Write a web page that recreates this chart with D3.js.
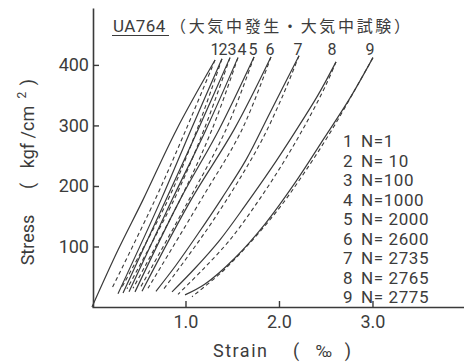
<!DOCTYPE html>
<html><head><meta charset="utf-8">
<script src="https://cdn.jsdelivr.net/npm/d3@7"></script>
<style>
html,body{margin:0;padding:0;background:#fff;}
svg{display:block;}
text{font-family:Roboto,"DejaVu Sans",sans-serif;fill:#3c3c3c;}
</style></head>
<body>
<svg id="c" width="464" height="362"></svg>
<script>
// ---- data (strain ‰, stress kgf/cm2) ----
const loopIds = [1,2,3,4,5,6,7,8,9];
const cycleLabels = ["N=1","N= 10","N=100","N=1000","N= 2000","N= 2600","N= 2735","N= 2765","N= 2775"];
const loading = [
  [[0,0],[0.278,94],[0.545,177],[0.904,293],[1.316,408]],
  [[0.278,22],[0.738,177],[1.059,293],[1.390,410]],
  [[0.332,23],[0.791,177],[1.134,293],[1.476,412]],
  [[0.396,25],[0.856,177],[1.219,293],[1.561,412]],
  [[0.460,25],[0.941,177],[1.358,293],[1.733,413]],
  [[0.535,26],[1.059,177],[1.519,293],[1.914,413]],
  [[0.684,26],[0.898,69],[1.134,121],[1.390,180],[1.647,243],[1.904,321],[2.214,415]],
  [[0.856,25],[1.102,64],[1.369,111],[1.636,167],[1.904,226],[2.171,289],[2.417,350],[2.610,405]],
  [[0.995,20],[1.209,38],[1.529,81],[1.850,137],[2.171,205],[2.492,281],[2.759,345],[3.005,412]]
];
const unloading = [
  [[1.316,408],[1.005,293],[0.674,177],[0.214,31]],
  [[1.390,410],[1.123,293],[0.813,177],[0.310,30]],
  [[1.476,412],[1.198,293],[0.877,177],[0.374,30]],
  [[1.561,412],[1.283,293],[0.941,177],[0.439,31]],
  [[1.733,413],[1.433,293],[1.037,177],[0.513,31]],
  [[1.914,413],[1.604,293],[1.166,177],[0.599,31]],
  [[2.214,415],[2.043,350],[1.818,276],[1.561,207],[1.283,140],[1.027,84],[0.759,28]],
  [[2.610,405],[2.503,367],[2.278,300],[2.032,235],[1.765,172],[1.476,111],[1.198,64],[0.920,21]],
  [[3.005,412],[2.813,359],[2.567,293],[2.289,226],[2.011,165],[1.690,106],[1.390,58],[1.070,17]]
];
const xTicks = [1,2,3];
const xTickLabels = ["1.0","2.0","3.0"];
const yTicks = [100,200,300,400];
const labelStress = 417; // label row level above loop tops
const labelStrain = [1.316,1.401,1.497,1.604,1.722,1.904,2.203,2.567,2.973];

// ---- layout ----
const svg = d3.select("#c");
const x = d3.scaleLinear().domain([0, 3.979]).range([92, 464]);
const y = d3.scaleLinear().domain([0, 494]).range([307, 8]);
const ink = "#3a3a3a";

// axes
const gx = svg.append("g").attr("transform","translate(0,307)")
  .call(d3.axisBottom(x).tickValues(xTicks).tickFormat((d,i)=>xTickLabels[i]).tickSizeInner(-6).tickSizeOuter(0).tickPadding(8));
const gy = svg.append("g").attr("transform","translate(93,0)")
  .call(d3.axisLeft(y).tickValues(yTicks).tickSizeInner(-6).tickSizeOuter(0).tickPadding(4));
[gx,gy].forEach(g=>{
  g.select(".domain").attr("stroke",ink).attr("stroke-width",1.6);
  g.selectAll(".tick line").attr("stroke",ink).attr("stroke-width",1.4);
  g.selectAll(".tick text").attr("fill","#3c3c3c").style("font-size","18px").style("font-family","Roboto, sans-serif");
});

// loops
const line = d3.line().x(d=>x(d[0])).y(d=>y(d[1])).curve(d3.curveCatmullRom.alpha(0.5));
const gl = svg.append("g").attr("fill","none").attr("stroke",ink);
loading.forEach(p=>gl.append("path").attr("d",line(p)).attr("stroke-width",1.2));
unloading.forEach(p=>gl.append("path").attr("d",line(p)).attr("stroke-width",1.1).attr("stroke-dasharray","4,3"));

// loop number labels
svg.append("g").selectAll("text").data(loopIds).join("text")
  .attr("x",(d,i)=>x(labelStrain[i])).attr("y",y(labelStress))
  .attr("text-anchor","middle").style("font-size","16px").text(d=>d);

// legend
const lg = svg.append("g");
loopIds.forEach((d,i)=>{
  const yy = 147 + i*19.5;
  lg.append("text").attr("x",343).attr("y",yy).style("font-size","17px").text(d);
  lg.append("text").attr("x",361).attr("y",yy).style("font-size","17px").style("letter-spacing","0.6px").text(cycleLabels[i]);
});

// title
svg.append("text").attr("x",113).attr("y",32).style("font-size","17px").style("letter-spacing","0.4px").text("UA764");
svg.append("line").attr("x1",112).attr("x2",169).attr("y1",35.5).attr("y2",35.5).attr("stroke",ink).attr("stroke-width",1.2);
svg.append("text").attr("x",170).attr("y",32).attr("textLength",240).attr("lengthAdjust","spacing")
  .style("font-family","'Noto Sans CJK JP',sans-serif").style("font-size","16px").text("（大気中發生・大気中試験）");

// axis titles
svg.append("text").attr("x",213).attr("y",357).attr("textLength",54).style("font-size","18px").text("Strain");
svg.append("text").attr("x",296).attr("y",357).attr("text-anchor","middle").style("font-size","18px").text("(");
svg.append("text").attr("x",324).attr("y",357).attr("text-anchor","middle").style("font-size","17px").text("‰");
svg.append("text").attr("x",348).attr("y",357).attr("text-anchor","middle").style("font-size","18px").text(")");

const ya = svg.append("g").attr("transform","translate(34,0)");
function vt(cy, s, size, dxs){
  ya.append("text").attr("transform",`translate(${dxs||0},${cy}) rotate(-90)`).attr("text-anchor","middle").style("font-size",size+"px").text(s);
}
vt(240,"Stress",18);
vt(186,"(",18);
vt(137,"kgf /cm",18);
vt(95,"2",12,-8);
vt(82,")",18);
</script>
</body></html>
